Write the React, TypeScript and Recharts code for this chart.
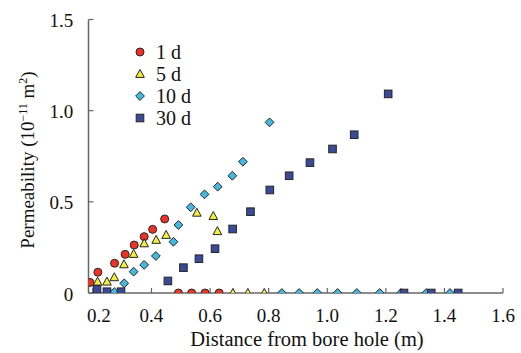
import React from 'react';
import { ScatterChart, Scatter, XAxis, YAxis, Legend } from 'recharts';

const FONT = '"Liberation Serif", "Times New Roman", Times, serif';

const xTicks = [0.2, 0.4, 0.6, 0.8, 1.0, 1.2, 1.4, 1.6];
const yTicks = [0, 0.5, 1.0, 1.5];

const dist1d = [0.190, 0.217, 0.274, 0.310, 0.341, 0.375, 0.404, 0.445, 0.492, 0.537, 0.583, 0.631];
const perm1d = [0.058, 0.114, 0.163, 0.212, 0.263, 0.309, 0.349, 0.406, 0, 0, 0, 0];

const dist5d = [0.216, 0.248, 0.273, 0.306, 0.339, 0.375, 0.416, 0.450, 0.555, 0.611, 0.625, 0.678, 0.729, 0.785];
const perm5d = [0.062, 0.062, 0.086, 0.157, 0.214, 0.272, 0.291, 0.318, 0.440, 0.422, 0.339, 0, 0, 0];

const dist10d = [0.273, 0.307, 0.339, 0.375, 0.415, 0.475, 0.492, 0.534, 0.581, 0.626, 0.676, 0.712, 0.803,
  0.845, 0.904, 0.966, 1.035, 1.101, 1.179, 1.252, 1.338, 1.419];
const perm10d = [0.005, 0.053, 0.117, 0.154, 0.203, 0.281, 0.373, 0.470, 0.541, 0.583, 0.643, 0.720, 0.936,
  0, 0, 0, 0, 0, 0, 0, 0, 0];

const dist30d = [0.214, 0.248, 0.296, 0.456, 0.509, 0.562, 0.617, 0.677, 0.738, 0.804, 0.870, 0.941, 1.018,
  1.092, 1.208, 1.262, 1.355, 1.447];
const perm30d = [0.020, 0.007, 0.007, 0.066, 0.139, 0.188, 0.243, 0.351, 0.446, 0.565, 0.643, 0.715, 0.790,
  0.868, 1.092, 0, 0, 0];

const seriesNames = ['1 d', '5 d', '10 d', '30 d'];
const seriesColors = ['#ee3226', '#f3ee3c', '#45b8e0', '#3b4999'];

const zip = (xs: number[], ys: number[]) => xs.map((x, i) => ({ x, y: ys[i] }));

const STROKE = '#262626';

const drawMarker = (kind: number, cx: number, cy: number, fill: string) => {
  if (kind === 0) {
    return <circle cx={cx} cy={cy} r={4} fill={fill} stroke={STROKE} strokeWidth={1} />;
  }
  if (kind === 1) {
    return (
      <polygon
        points={`${cx},${cy - 4.6} ${cx + 4.3},${cy + 3.4} ${cx - 4.3},${cy + 3.4}`}
        fill={fill}
        stroke={STROKE}
        strokeWidth={1}
      />
    );
  }
  if (kind === 2) {
    const d = 4.4;
    return (
      <polygon
        points={`${cx},${cy - d} ${cx + d},${cy} ${cx},${cy + d} ${cx - d},${cy}`}
        fill={fill}
        stroke={STROKE}
        strokeWidth={1}
      />
    );
  }
  return <rect x={cx - 3.8} y={cy - 3.8} width={7.6} height={7.6} fill={fill} stroke={STROKE} strokeWidth={1} />;
};

const makeShape = (kind: number) => (props: any) => {
  const { cx, cy } = props;
  if (cx == null || cy == null) return <g />;
  return drawMarker(kind, cx, cy, seriesColors[kind]);
};

const LegendContent = () => (
  <div style={{ fontFamily: FONT, fontSize: 20, color: '#111' }}>
    {seriesNames.map((name, i) => (
      <div key={name} style={{ display: 'flex', alignItems: 'center', height: 22.2 }}>
        <svg width={14} height={14} style={{ display: 'block' }}>
          {drawMarker(i, 7, 7, seriesColors[i])}
        </svg>
        <span style={{ marginLeft: 9, lineHeight: '22px' }}>{name}</span>
      </div>
    ))}
  </div>
);

const XTick = (props: any) => {
  const { x, y, payload, index } = props;
  const shift = index === 0 ? 6 : 0;
  return (
    <text x={x + shift} y={y + 34} textAnchor="middle" fontFamily={FONT} fontSize={19} fill="#111">
      {Number(payload.value).toFixed(1)}
    </text>
  );
};

const YTick = (props: any) => {
  const { x, y, payload } = props;
  const v = Number(payload.value);
  return (
    <text x={x - 20.3} y={y + 7.5} textAnchor="end" fontFamily={FONT} fontSize={19} fill="#111">
      {v === 0 ? '0' : v.toFixed(1)}
    </text>
  );
};

const XTitle = () => (
  <text x={307} y={346} textAnchor="middle" fontFamily={FONT} fontSize={20.5} fill="#111">
    Distance from bore hole (m)
  </text>
);

const YTitle = () => (
  <g transform="translate(34 160) rotate(-90)">
    <text x={0} y={0} textAnchor="middle" fontFamily={FONT} fontSize={19} fill="#111">
      Permeability (10
      <tspan dy={-7} fontSize={12}>−11</tspan>
      <tspan dy={7}> m</tspan>
      <tspan dy={-7} fontSize={12}>2</tspan>
      <tspan dy={7}>)</tspan>
    </text>
  </g>
);

export default function App() {
  const axisColor = '#666666';
  return (
    <div style={{ position: 'absolute', left: 0, top: 0, width: 521, height: 353, background: '#fff' }}>
      <ScatterChart width={521} height={353} margin={{ top: 19.5, right: 18, bottom: 0, left: 0 }}>
        <XAxis
          type="number"
          dataKey="x"
          domain={[0.185, 1.6]}
          ticks={xTicks}
          allowDataOverflow
          height={60}
          tickSize={-5}
          tickMargin={0}
          axisLine={{ stroke: axisColor, strokeWidth: 1.5 }}
          tickLine={{ stroke: axisColor, strokeWidth: 1.2 }}
          tick={<XTick />}
          label={<XTitle />}
        />
        <YAxis
          type="number"
          dataKey="y"
          domain={[0, 1.5]}
          ticks={yTicks}
          allowDataOverflow
          width={88.5}
          tickSize={-5}
          tickMargin={0}
          axisLine={{ stroke: axisColor, strokeWidth: 1.5 }}
          tickLine={{ stroke: axisColor, strokeWidth: 1.2 }}
          tick={<YTick />}
          label={<YTitle />}
        />
        <Legend
          layout="vertical"
          align="center"
          verticalAlign="middle"
          content={<LegendContent />}
          wrapperStyle={{ position: 'absolute', left: 133, top: 40.6, width: 'auto', height: 'auto' }}
        />
        <Scatter name={seriesNames[0]} data={zip(dist1d, perm1d)} fill={seriesColors[0]} shape={makeShape(0)} isAnimationActive={false} />
        <Scatter name={seriesNames[1]} data={zip(dist5d, perm5d)} fill={seriesColors[1]} shape={makeShape(1)} isAnimationActive={false} />
        <Scatter name={seriesNames[2]} data={zip(dist10d, perm10d)} fill={seriesColors[2]} shape={makeShape(2)} isAnimationActive={false} />
        <Scatter name={seriesNames[3]} data={zip(dist30d, perm30d)} fill={seriesColors[3]} shape={makeShape(3)} isAnimationActive={false} />
      </ScatterChart>
    </div>
  );
}
